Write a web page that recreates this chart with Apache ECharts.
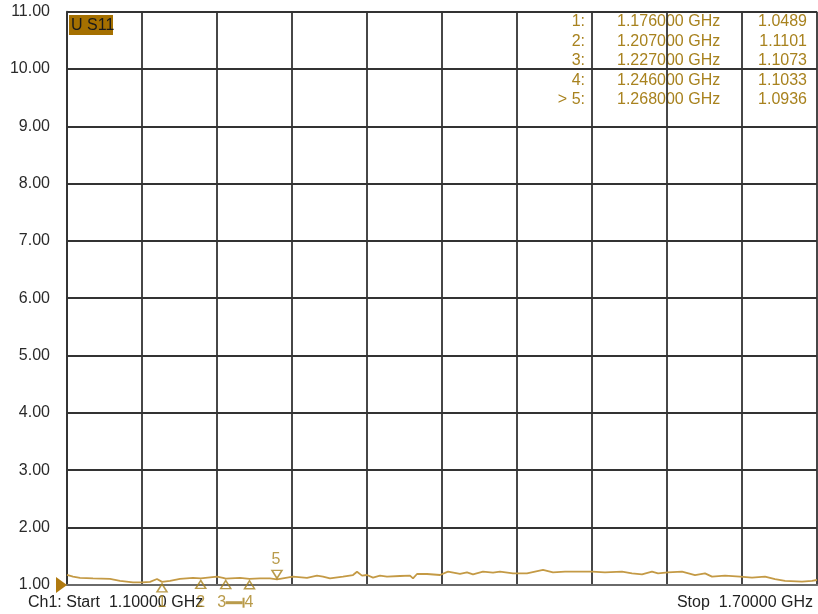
<!DOCTYPE html>
<html>
<head>
<meta charset="utf-8">
<script src="https://cdn.jsdelivr.net/npm/echarts@6/dist/echarts.min.js"></script>
<style>
html,body{margin:0;padding:0;background:#fff;}
#chart{width:818px;height:614px;}
</style>
</head>
<body>
<div id="chart"></div>
<script>
// Trace data (frequency in GHz, S11 linear magnitude)
var freqs = [1.1000,1.1048,1.1104,1.1208,1.1344,1.1424,1.1528,1.1600,1.1664,1.1720,1.1760,1.1824,1.1904,1.2008,1.2070,1.2200,1.2248,1.2270,1.2384,1.2460,1.2544,1.2624,1.2680,1.2808,1.2920,1.3000,1.3048,1.3104,1.3208,1.3288,1.3320,1.3360,1.3400,1.3448,1.3504,1.3560,1.3664,1.3744,1.3768,1.3800,1.3880,1.3984,1.4048,1.4144,1.4200,1.4248,1.4328,1.4408,1.4464,1.4568,1.4680,1.4808,1.4888,1.4984,1.5064,1.5200,1.5304,1.5440,1.5520,1.5600,1.5680,1.5728,1.5808,1.5920,1.6024,1.6104,1.6160,1.6264,1.6384,1.6480,1.6584,1.6664,1.6744,1.6880,1.6960,1.7000];
var s11 = [1.17,1.14,1.12,1.11,1.10,1.065,1.04,1.04,1.05,1.10,1.0489,1.065,1.10,1.12,1.1101,1.14,1.12,1.1073,1.12,1.1033,1.11,1.11,1.0936,1.14,1.12,1.158,1.14,1.111,1.14,1.169,1.227,1.158,1.169,1.123,1.158,1.14,1.152,1.158,1.111,1.187,1.187,1.169,1.227,1.187,1.216,1.181,1.227,1.21,1.227,1.198,1.198,1.257,1.216,1.227,1.227,1.227,1.216,1.227,1.198,1.181,1.227,1.198,1.216,1.227,1.169,1.198,1.14,1.158,1.14,1.123,1.14,1.099,1.065,1.053,1.065,1.082];
// Markers
var markerNames = ['1','2','3','4','5'];
var markerFreqs = [1.176,1.207,1.227,1.246,1.268];
var markerVals = [1.0489,1.1101,1.1073,1.1033,1.0936];
// Axes
var yTicks = [1,2,3,4,5,6,7,8,9,10,11];
var startFreq = 1.1, stopFreq = 1.7, xDivisions = 10;

var gold = '#A8821E';
var traceColor = '#C49A45';
var gridColor = '#333333';
var font = 'Liberation Sans, Arial, sans-serif';

var chart = echarts.init(document.getElementById('chart'), null, {renderer:'canvas'});

var traceData = freqs.map(function(f,i){return [f, s11[i]];});
var passive = [], active = [], labelData = [];
markerFreqs.forEach(function(f,i){
  if (i < 4) passive.push([f, markerVals[i]]); else active.push({value:[f, markerVals[i]], name: markerNames[i]});
  if (i < 4) labelData.push({value:[f, yTicks[0]], name: markerNames[i]});
});

// Marker table texts
var tableEls = [];
var rowY0 = 21.5, rowDy = 19.6;
markerNames.forEach(function(n,i){
  var y = rowY0 + i*rowDy;
  var prefix = (i === markerNames.length-1) ? '> ' : '';
  tableEls.push({type:'text', x:585, y:y, style:{text: prefix + n + ':', fill: gold, font:'16px ' + font, align:'right', verticalAlign:'middle'}});
  tableEls.push({type:'text', x:617, y:y, style:{text: markerFreqs[i].toFixed(6) + ' GHz', fill: gold, font:'16px ' + font, align:'left', verticalAlign:'middle'}});
  tableEls.push({type:'text', x:807, y:y, style:{text: markerVals[i].toFixed(4), fill: gold, font:'16px ' + font, align:'right', verticalAlign:'middle'}});
});

var option = {
  animation: false,
  backgroundColor: '#ffffff',
  grid: {left: 67, right: 1, top: 11.7, bottom: 29.3, containLabel: false},
  xAxis: [
    {type:'value', min:startFreq, max:stopFreq, show:false},
    {type:'value', min:0, max:xDivisions, interval:1, position:'bottom',
     axisLine:{show:true, onZero:false, lineStyle:{color:'#6a6a6a', width:2.2}},
     axisTick:{show:false}, axisLabel:{show:false},
     splitLine:{show:true, lineStyle:{color:gridColor, width:1.8}}}
  ],
  yAxis: {
    type:'value', min:yTicks[0], max:yTicks[yTicks.length-1], interval:1,
    axisLine:{show:true, lineStyle:{color:gridColor, width:1.8}},
    axisTick:{show:false},
    axisLabel:{formatter:function(v){return v.toFixed(2);}, color:'#2a2a2a', fontSize:16, fontFamily:font, margin:17},
    splitLine:{show:true, lineStyle:{color:gridColor, width:1.8}}
  },
  series: [
    {type:'line', xAxisIndex:0, data:traceData, symbol:'none', lineStyle:{color:traceColor, width:1.8}, z:5},
    {type:'scatter', xAxisIndex:0, data:passive, symbol:'triangle', symbolSize:[10,8], symbolOffset:[0,6],
     itemStyle:{color:'rgba(255,255,255,0)', borderColor:gold, borderWidth:1.5}, z:6},
    {type:'scatter', xAxisIndex:0, data:active, symbol:'triangle', symbolRotate:180, symbolSize:[10,8], symbolOffset:[0,-5],
     itemStyle:{color:'rgba(255,255,255,0)', borderColor:gold, borderWidth:1.5},
     label:{show:true, position:'inside', offset:[-1,-15], formatter:function(p){return p.name;}, color:gold, fontSize:16, fontFamily:font}, z:6},
    {type:'scatter', xAxisIndex:0, data:labelData, symbolSize:0, silent:true, clip:false,
     label:{show:true, position:'inside', formatter:function(p){
        if (p.name === '4') return '{l|}{t|}4';
        return p.name;
      }, color:gold, fontSize:16, fontFamily:font,
      rich:{l:{width:17, height:3, backgroundColor:gold, verticalAlign:'middle'}, t:{width:2, height:10, backgroundColor:gold}}}, z:6}
  ],
  graphic: [
    {type:'rect', shape:{x:69, y:15, width:44, height:20}, style:{fill:'#A57000'}, z:10},
    {type:'text', x:71, y:25.5, style:{text:'U S11', fill:'#1a1a1a', font:'16px ' + font, verticalAlign:'middle'}, z:11},
    {type:'polygon', shape:{points:[[56,577],[67,585],[56,593]]}, style:{fill:'#B07A10'}, z:11},
    {type:'text', x:28, y:603, style:{text:'Ch1: Start  1.10000 GHz', fill:'#222', font:'16px ' + font, verticalAlign:'middle'}, z:4},
    {type:'text', x:813, y:603, style:{text:'Stop  1.70000 GHz', fill:'#222', font:'16px ' + font, align:'right', verticalAlign:'middle'}, z:4}
  ].concat(tableEls)
};
// adjust label offsets per marker
option.series[3].data = labelData.map(function(d){
  var off = [0, 18];
  if (d.name === '3') off = [-4, 18];
  if (d.name === '4') off = [-10, 18];
  return {value:d.value, name:d.name, label:{offset:off}};
});
chart.setOption(option);
</script>
</body>
</html>
